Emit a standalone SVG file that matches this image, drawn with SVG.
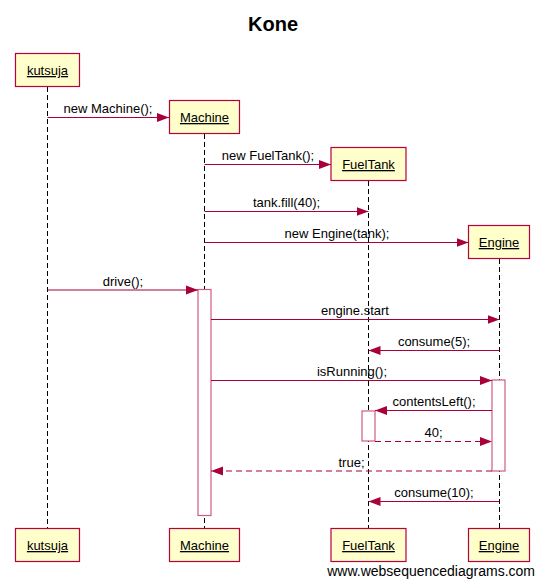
<svg xmlns="http://www.w3.org/2000/svg" width="544" height="586" viewBox="0 0 544 586">
<defs>
<style>
.box{fill:#ffffcc;stroke:#b8003c;stroke-width:1.2}
.lbl{font-family:"Liberation Sans",Arial,sans-serif;font-size:13px;fill:#000;text-anchor:middle;text-decoration:underline}
.life{stroke:#000;stroke-width:1;stroke-dasharray:5,3;fill:none}
.act{fill:#fff;stroke:#d05a80;stroke-width:1.2}
.msg{stroke:#a8003a;stroke-width:1.2;fill:none;marker-end:url(#ah)}
.ret{stroke:#a8003a;stroke-width:1.2;fill:none;stroke-dasharray:6,4;marker-end:url(#ah)}
.mt{font-family:"Liberation Sans",Arial,sans-serif;font-size:13px;fill:#000;text-anchor:middle}
</style>
<marker id="ah" markerUnits="userSpaceOnUse" markerWidth="14" markerHeight="10" refX="12" refY="5" orient="auto">
<path d="M0,0.5 L12,5 L0,9.5 Z" fill="#a8003a" stroke="none"/>
</marker>
</defs>
<rect width="544" height="586" fill="#fff"/>
<text x="273" y="31" style="font-family:'Liberation Sans',Arial,sans-serif;font-size:20px;font-weight:bold" text-anchor="middle">Kone</text>

<g id="lifelines">
<line class="life" x1="47.5" y1="87" x2="47.5" y2="528"/>
<line class="life" x1="204.5" y1="134" x2="204.5" y2="528"/>
<line class="life" x1="368.5" y1="181" x2="368.5" y2="528"/>
<line class="life" x1="499.5" y1="259" x2="499.5" y2="528"/>
</g>

<g id="activations">
<rect class="act" x="198" y="289.5" width="13" height="226"/>
<rect class="act" x="492" y="380" width="13" height="91"/>
<rect class="act" x="362" y="411" width="13" height="30"/>
</g>

<g id="kutsuja">
<rect class="box" x="15.5" y="53.5" width="64" height="33"/>
<text class="lbl" x="47.5" y="75">kutsuja</text>
<rect class="box" x="15.5" y="528.5" width="64" height="33"/>
<text class="lbl" x="47.5" y="550">kutsuja</text>
</g>
<g id="Machine">
<rect class="box" x="169.5" y="100.5" width="70" height="33"/>
<text class="lbl" x="204.5" y="122">Machine</text>
<rect class="box" x="169.5" y="528.5" width="70" height="33"/>
<text class="lbl" x="204.5" y="550">Machine</text>
</g>
<g id="FuelTank">
<rect class="box" x="331" y="147.5" width="75" height="33"/>
<text class="lbl" x="368.5" y="169">FuelTank</text>
<rect class="box" x="331" y="528.5" width="75" height="33"/>
<text class="lbl" x="368.5" y="550">FuelTank</text>
</g>
<g id="Engine">
<rect class="box" x="468.5" y="225.5" width="61" height="33"/>
<text class="lbl" x="499" y="247">Engine</text>
<rect class="box" x="468.5" y="528.5" width="61" height="33"/>
<text class="lbl" x="499" y="550">Engine</text>
</g>

<g id="connectors">
<line class="msg" x1="47.5" y1="117.5" x2="169" y2="117.5"/>
<text class="mt" x="108" y="113">new Machine();</text>
<line class="msg" x1="204.5" y1="164.5" x2="331" y2="164.5"/>
<text class="mt" x="268" y="160">new FuelTank();</text>
<line class="msg" x1="204.5" y1="211.5" x2="368.5" y2="211.5"/>
<text class="mt" x="286.5" y="207">tank.fill(40);</text>
<line class="msg" x1="204.5" y1="242.5" x2="468.5" y2="242.5"/>
<text class="mt" x="337" y="238">new Engine(tank);</text>
<line class="msg" x1="47.5" y1="290" x2="198" y2="290"/>
<text class="mt" x="123" y="286">drive();</text>
<line class="msg" x1="211" y1="319.5" x2="499.5" y2="319.5"/>
<text class="mt" x="355" y="315">engine.start</text>
<line class="msg" x1="499.5" y1="350.5" x2="368.5" y2="350.5"/>
<text class="mt" x="434" y="346">consume(5);</text>
<line class="msg" x1="211" y1="380.5" x2="492" y2="380.5"/>
<text class="mt" x="352" y="376">isRunning();</text>
<line class="msg" x1="492" y1="410.5" x2="375" y2="410.5"/>
<text class="mt" x="434" y="406">contentsLeft();</text>
<line class="ret" x1="375" y1="441.5" x2="492" y2="441.5"/>
<text class="mt" x="433.5" y="437">40;</text>
<line class="ret" x1="492" y1="471" x2="211" y2="471"/>
<text class="mt" x="351.5" y="467">true;</text>
<line class="msg" x1="499.5" y1="501.5" x2="368.5" y2="501.5"/>
<text class="mt" x="434" y="497">consume(10);</text>
</g>

<text x="535" y="576" text-anchor="end" style="font-family:'Liberation Sans',Arial,sans-serif;font-size:14px">www.websequencediagrams.com</text>
</svg>
